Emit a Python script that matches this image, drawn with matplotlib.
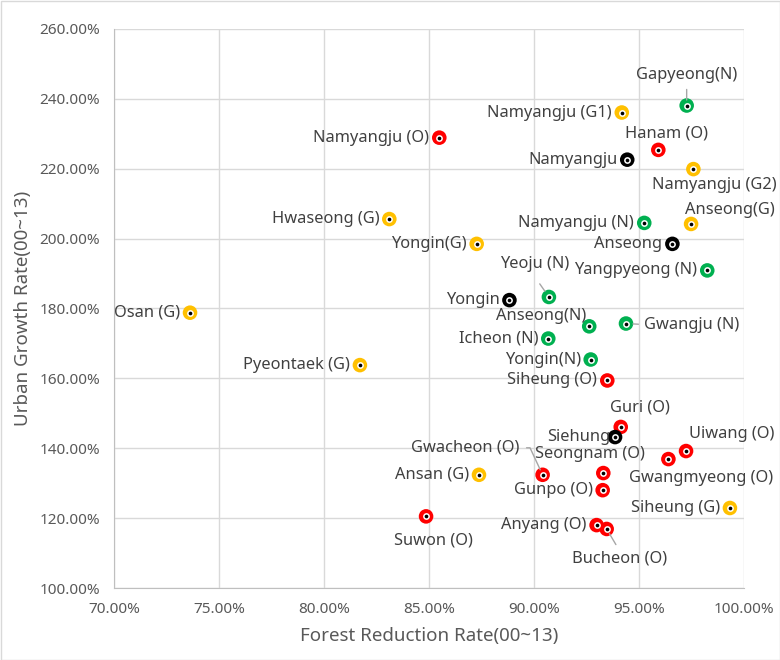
import matplotlib.pyplot as plt
from matplotlib.patches import Rectangle
from matplotlib.ticker import FuncFormatter, MultipleLocator

# data (percent)
names = [
    "Gapyeong(N)", "Namyangju (G1)", "Namyangju (O)", "Hanam (O)", "Namyangju",
    "Namyangju (G2)", "Anseong(G)", "Namyangju (N)", "Hwaseong (G)", "Yongin(G)",
    "Anseong", "Yangpyeong (N)", "Yeoju (N)", "Yongin", "Anseong(N)",
    "Gwangju (N)", "Icheon (N)", "Yongin(N)", "Osan (G)", "Pyeontaek (G)",
    "Siheung (O)", "Guri (O)", "Siehung", "Uiwang (O)", "Gwangmyeong (O)",
    "Gwacheon (O)", "Seongnam (O)", "Ansan (G)", "Gunpo (O)", "Siheung (G)",
    "Suwon (O)", "Anyang (O)", "Bucheon (O)",
]
forest = [
    97.27, 94.18, 85.49, 95.92, 94.44,
    97.59, 97.48, 95.25, 83.11, 87.27,
    96.59, 98.25, 90.71, 88.83, 92.63,
    94.38, 90.68, 92.70, 73.62, 81.71,
    93.49, 94.13, 93.86, 97.24, 96.40,
    90.41, 93.30, 87.38, 93.27, 99.33,
    84.86, 92.98, 93.46,
]
urban = [
    238.1, 236.1, 228.9, 225.4, 222.6,
    219.9, 204.2, 204.5, 205.6, 198.5,
    198.5, 190.9, 183.3, 182.4, 174.9,
    175.7, 171.4, 165.4, 178.8, 163.8,
    159.4, 146.1, 143.2, 139.2, 136.9,
    132.4, 132.9, 132.4, 128.0, 122.9,
    120.5, 118.0, 116.9,
]
groups = [
    "N", "G", "O", "O", "C",
    "G", "G", "N", "G", "G",
    "C", "N", "N", "C", "N",
    "N", "N", "N", "G", "G",
    "O", "O", "C", "O", "O",
    "O", "O", "G", "O", "G",
    "O", "O", "O",
]

group_colors = {"N": "#00B050", "G": "#FFC000", "O": "#FF0000", "C": "#000000"}

# label layout: (dx, dy in pixels, ha, leader)
label_layout = {
    "Gapyeong(N)": (0, 31, "center", "down"),
    "Hanam (O)": (8, 16, "center", None),
    "Namyangju (G2)": (21, -16, "center", None),
    "Anseong(G)": (39, 14, "center", None),
    "Yeoju (N)": (-14, 33, "center", "yeoju"),
    "Anseong(N)": (-48, 10, "center", None),
    "Gwangju (N)": (18, -1, "left", "left"),
    "Guri (O)": (19, 19, "center", None),
    "Siehung": (-5, 0, "right", None),
    "Uiwang (O)": (46, 17, "center", None),
    "Gwangmyeong (O)": (33, -19, "center", None),
    "Gwacheon (O)": (-23, 27, "right", "gwacheon"),
    "Seongnam (O)": (-13, 19, "center", None),
    "Suwon (O)": (7, -24, "center", None),
    "Bucheon (O)": (13, -30, "center", "up"),
}

label_font = ["Noto Sans", "DejaVu Sans"]
text_gray = "#404040"
axis_gray = "#595959"

fig = plt.figure(figsize=(7.8, 6.6), dpi=100)
ax = fig.add_axes([114 / 780, 1 - 588 / 660, 630 / 780, 559 / 660])

ax.set_xlim(70, 100)
ax.set_ylim(100, 260)
ax.xaxis.set_major_locator(MultipleLocator(5))
ax.yaxis.set_major_locator(MultipleLocator(20))
ax.xaxis.set_major_formatter(FuncFormatter(lambda v, p: f"{v:.2f}%"))
ax.yaxis.set_major_formatter(FuncFormatter(lambda v, p: f"{v:.2f}%"))
ax.grid(True, color="#D9D9D9", linewidth=1)
ax.set_axisbelow(True)
for side in ["top", "right"]:
    ax.spines[side].set_visible(False)
for side in ["left", "bottom"]:
    ax.spines[side].set_color("#BFBFBF")
ax.tick_params(length=0, pad=10, labelsize=11, labelcolor=axis_gray)
for lab in ax.get_xticklabels() + ax.get_yticklabels():
    lab.set_family(label_font)

ax.set_xlabel("Forest Reduction Rate(00~13)", fontsize=13.5, color=axis_gray,
              family=label_font, labelpad=7)
ax.set_ylabel("Urban Growth Rate(00~13)", fontsize=13.5, color=axis_gray,
              family=label_font, labelpad=5)

colors = [group_colors[g] for g in groups]
ax.scatter(forest, urban, s=110, c=colors, linewidths=0, zorder=3)
ax.scatter(forest, urban, s=24, c="white", linewidths=0, zorder=4)
ax.scatter(forest, urban, s=7, c="black", linewidths=0, zorder=5)

for name, x, y in zip(names, forest, urban):
    dx, dy, ha, leader = label_layout.get(name, (-10, 0, "right", None))
    arrow = None
    if leader == "down":
        arrow = dict(arrowstyle="-", color="#A6A6A6", lw=1, relpos=(0.5, 0),
                     shrinkA=3, shrinkB=4)
    elif leader == "up":
        arrow = dict(arrowstyle="-", color="#A6A6A6", lw=1, relpos=(0.5, 1),
                     shrinkA=3, shrinkB=4)
    elif leader == "left":
        arrow = dict(arrowstyle="-", color="#A6A6A6", lw=1, relpos=(0, 0.5),
                     shrinkA=2, shrinkB=5)
    elif leader == "yeoju":
        arrow = dict(arrowstyle="-", color="#A6A6A6", lw=1, relpos=(0.45, 0),
                     shrinkA=8, shrinkB=5)
    elif leader == "gwacheon":
        arrow = dict(arrowstyle="-", color="#A6A6A6", lw=1, relpos=(1, 0.5),
                     shrinkA=3, shrinkB=4,
                     connectionstyle="angle,angleA=0,angleB=-65,rad=0")
    ax.annotate(name, (x, y), xytext=(dx, dy), textcoords="offset pixels",
                ha=ha, va="center", fontsize=11.8, color=text_gray,
                family=label_font, arrowprops=arrow, zorder=6)

fig.patches.append(Rectangle((0.5 / 780, 0.5 / 660), 1 - 1 / 780, 1 - 1 / 660,
                             transform=fig.transFigure, fill=False,
                             edgecolor="#D9D9D9", linewidth=1))

fig.savefig("out.png", dpi=100, facecolor="white")
